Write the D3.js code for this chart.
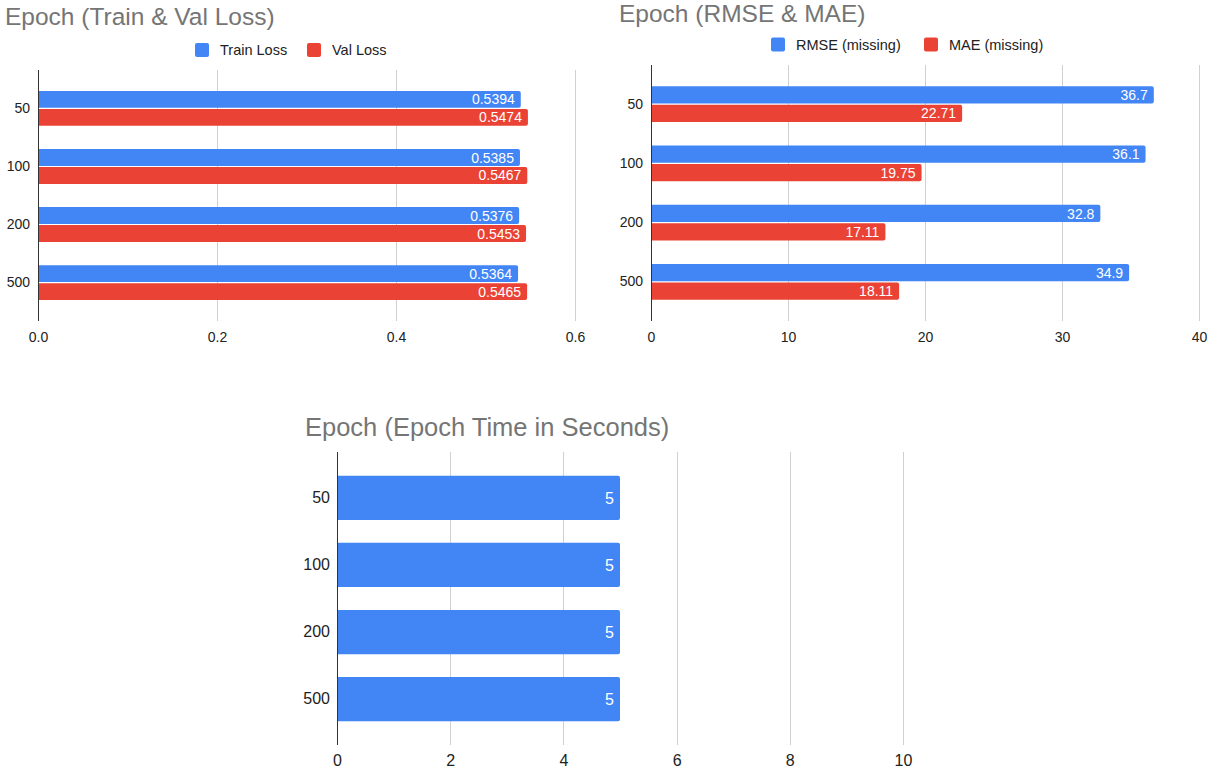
<!DOCTYPE html>
<html>
<head>
<meta charset="utf-8">
<script src="https://cdn.jsdelivr.net/npm/d3@7"></script>
<style>
  html, body { margin: 0; padding: 0; background: #fff; }
  svg { display: block; font-family: "Liberation Sans", Arial, Helvetica, sans-serif; }
</style>
</head>
<body>
<svg id="chart" width="1216" height="771"></svg>
<script>
// Epoch categories shared by all three panels
const epochs = ["50", "100", "200", "500"];

// Panel 1: losses
const trainLoss = [0.5394, 0.5385, 0.5376, 0.5364];
const valLoss = [0.5474, 0.5467, 0.5453, 0.5465];
const lossTicks = [0, 0.2, 0.4, 0.6];

// Panel 2: error metrics
const rmse = [36.7, 36.1, 32.8, 34.9];
const mae = [22.71, 19.75, 17.11, 18.11];
const errorTicks = [0, 10, 20, 30, 40];

// Panel 3: time per epoch
const epochTime = [5, 5, 5, 5];
const timeTicks = [0, 2, 4, 6, 8, 10];

const BLUE = "#4285F4";
const RED = "#EA4335";
const FONT = "'Liberation Sans', Arial, sans-serif";

const svg = d3.select("#chart");

function drawPanel(cfg) {
  const g = svg.append("g");
  const fs = cfg.fontSize;

  // title
  g.append("text")
    .attr("x", cfg.titleX).attr("y", cfg.titleY)
    .attr("font-size", cfg.titleSize).attr("fill", "#757575")
    .text(cfg.title);

  // legend
  if (cfg.legend) {
    cfg.legend.forEach(item => {
      g.append("rect")
        .attr("x", item.x).attr("y", cfg.legendY - 7)
        .attr("width", 14).attr("height", 14).attr("rx", 2)
        .attr("fill", item.color);
      g.append("text")
        .attr("x", item.x + 25).attr("y", cfg.legendY)
        .attr("dy", "0.36em")
        .attr("font-size", 14.5).attr("fill", "#222")
        .text(item.label);
    });
  }

  const x = d3.scaleLinear().domain(cfg.xDomain).range([cfg.left, cfg.right]);
  const y = d3.scaleBand().domain(epochs).range([cfg.top, cfg.bottom])
    .paddingInner(cfg.padInner).paddingOuter(cfg.padOuter);
  const ySeries = d3.scaleBand().domain(d3.range(cfg.series.length))
    .range([0, y.bandwidth()]).paddingInner(cfg.seriesGap);

  // vertical gridlines
  g.append("g").selectAll("line")
    .data(cfg.ticks.filter(t => t !== 0))
    .join("line")
    .attr("x1", d => Math.round(x(d)) + 0.5).attr("x2", d => Math.round(x(d)) + 0.5)
    .attr("y1", cfg.top).attr("y2", cfg.bottom)
    .attr("stroke", "#d0d0d0").attr("stroke-width", 1);

  // bottom axis (labels only)
  const xAxis = d3.axisBottom(x).tickValues(cfg.ticks).tickFormat(cfg.tickFormat)
    .tickSize(0).tickPadding(0);
  const ax = g.append("g").attr("transform", `translate(0,${cfg.bottom + cfg.tickGap})`).call(xAxis);
  ax.select(".domain").remove();
  ax.selectAll("text").attr("font-size", fs).attr("fill", "#222").attr("font-family", FONT);

  // left axis (category labels)
  const yAxis = d3.axisLeft(y).tickSize(0).tickPadding(cfg.catPad);
  const ay = g.append("g").attr("transform", `translate(${cfg.left},0)`).call(yAxis);
  ay.select(".domain").remove();
  ay.selectAll("text").attr("font-size", fs).attr("fill", "#222").attr("font-family", FONT);

  // bars with lightly rounded ends and value labels inside
  cfg.series.forEach((s, si) => {
    const rows = s.values.map((v, i) => ({ v, cat: epochs[i] }));
    const bars = g.append("g");
    bars.selectAll("path")
      .data(rows)
      .join("path")
      .attr("fill", s.color)
      .attr("d", d => {
        const x0 = x(0), x1 = x(d.v);
        const y0 = y(d.cat) + ySeries(si), h = ySeries.bandwidth();
        const r = 2;
        return `M${x0},${y0}H${x1 - r}Q${x1},${y0} ${x1},${y0 + r}V${y0 + h - r}Q${x1},${y0 + h} ${x1 - r},${y0 + h}H${x0}Z`;
      });
    bars.selectAll("text")
      .data(rows)
      .join("text")
      .attr("x", d => x(d.v) - 6)
      .attr("y", d => y(d.cat) + ySeries(si) + ySeries.bandwidth() / 2)
      .attr("dy", "0.36em")
      .attr("text-anchor", "end")
      .attr("font-size", fs).attr("fill", "#fff")
      .text(d => s.format(d.v));
  });

  // vertical axis line
  g.append("line")
    .attr("x1", Math.round(x(0)) + 0.5).attr("x2", Math.round(x(0)) + 0.5)
    .attr("y1", cfg.top).attr("y2", cfg.bottom)
    .attr("stroke", "#333").attr("stroke-width", 1);
}

drawPanel({
  title: "Epoch (Train & Val Loss)", titleX: 5, titleY: 25, titleSize: 24.5,
  legendY: 50,
  legend: [
    { label: "Train Loss", color: BLUE, x: 195 },
    { label: "Val Loss", color: RED, x: 307 }
  ],
  fontSize: 14, tickGap: 11, catPad: 8,
  xDomain: [0, 0.6], left: 38, right: 575,
  top: 70, bottom: 321, padInner: 0.4, padOuter: 0.36, seriesGap: 0.06,
  ticks: lossTicks, tickFormat: d3.format(".1f"),
  series: [
    { values: trainLoss, color: BLUE, format: d => d.toFixed(4) },
    { values: valLoss, color: RED, format: d => d.toFixed(4) }
  ]
});

drawPanel({
  title: "Epoch (RMSE & MAE)", titleX: 619, titleY: 21.5, titleSize: 24.5,
  legendY: 44.5,
  legend: [
    { label: "RMSE (missing)", color: BLUE, x: 771 },
    { label: "MAE (missing)", color: RED, x: 924 }
  ],
  fontSize: 14, tickGap: 11, catPad: 8,
  xDomain: [0, 40], left: 651, right: 1199,
  top: 65, bottom: 321, padInner: 0.4, padOuter: 0.36, seriesGap: 0.06,
  ticks: errorTicks, tickFormat: d3.format("d"),
  series: [
    { values: rmse, color: BLUE, format: d => String(d) },
    { values: mae, color: RED, format: d => String(d) }
  ]
});

drawPanel({
  title: "Epoch (Epoch Time in Seconds)", titleX: 305, titleY: 436, titleSize: 25.5,
  legend: null,
  fontSize: 16, tickGap: 10, catPad: 7,
  xDomain: [0, 10], left: 337, right: 903,
  top: 452, bottom: 745, padInner: 0.34, padOuter: 0.355, seriesGap: 0,
  ticks: timeTicks, tickFormat: d3.format("d"),
  series: [
    { values: epochTime, color: BLUE, format: d => String(d) }
  ]
});
</script>
</body>
</html>
